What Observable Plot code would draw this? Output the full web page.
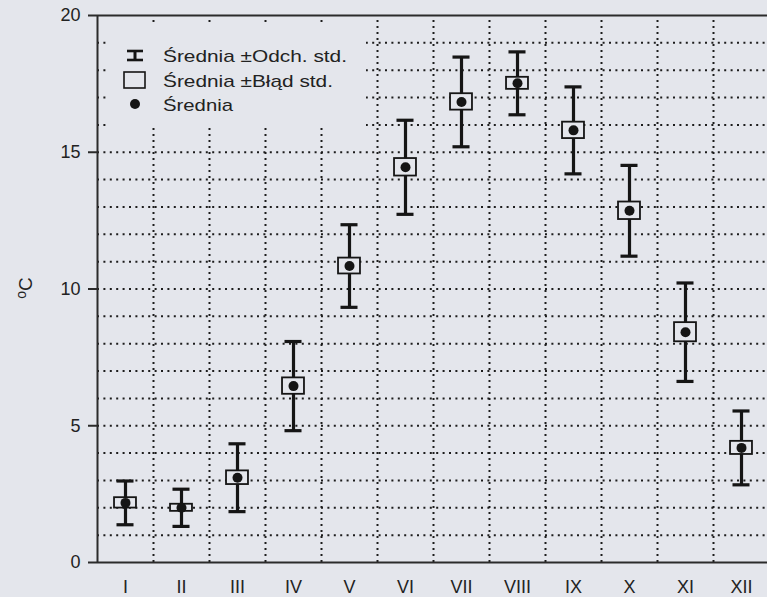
<!DOCTYPE html>
<html>
<head>
<meta charset="utf-8">
<script src="https://cdn.jsdelivr.net/npm/d3@7"></script>
<script src="https://cdn.jsdelivr.net/npm/@observablehq/plot@0.6"></script>
<style>
  html, body { margin: 0; padding: 0; background: #e4e6ec; overflow: hidden; }
  #chart { position: relative; width: 767px; height: 597px; }
</style>
</head>
<body>
<div id="chart"></div>
<script>
const months = ["I","II","III","IV","V","VI","VII","VIII","IX","X","XI","XII"];
const means  = [2.18, 2.0, 3.1, 6.45, 10.84, 14.45, 16.84, 17.52, 15.8, 12.86, 8.42, 4.19];
const sds    = [0.8, 0.68, 1.24, 1.63, 1.51, 1.72, 1.64, 1.15, 1.59, 1.66, 1.8, 1.35];
const ses    = [0.19, 0.13, 0.25, 0.3, 0.29, 0.32, 0.3, 0.22, 0.3, 0.32, 0.35, 0.24];
const yTicks = [0, 5, 10, 15, 20];
const legendLabels = ["Średnia ±Odch. std.", "Średnia ±Błąd std.", "Średnia"];
const yLabel = ["o", "C"];

const BG = "#e4e6ec";
const INK = "#151515";

const data = months.map((m, k) => ({i: k + 1, month: m, mean: means[k], sd: sds[k], se: ses[k]}));
const hGrid = d3.range(1, 20);
const vGrid = d3.range(1.5, 12.5, 1);

const plot = Plot.plot({
  width: 767,
  height: 597,
  marginLeft: 97,
  marginRight: -2,
  marginTop: 15,
  marginBottom: 35,
  style: {background: BG, fontFamily: "'Liberation Sans', Arial, sans-serif", fontSize: "18px", color: "#222", overflow: "visible"},
  x: {domain: [0.5, 12.5]},
  y: {domain: [0, 20]},
  marks: [
    Plot.ruleY(hGrid, {stroke: "#1c1c1c", strokeWidth: 2, strokeDasharray: "2,4.4"}),
    Plot.ruleX(vGrid, {y1: 0, y2: 20, stroke: "#1c1c1c", strokeWidth: 2, strokeDasharray: "2,4"}),
    Plot.ruleY([20], {stroke: "#2b2b2b", strokeWidth: 2}),
    Plot.ruleY([0], {stroke: "#2b2b2b", strokeWidth: 2}),
    Plot.ruleX([0.5], {y1: 0, y2: 20, stroke: "#2b2b2b", strokeWidth: 2}),
    Plot.axisY({ticks: yTicks, tickSize: 9, tickPadding: 8, label: null, fontSize: 18, stroke: "#2b2b2b", strokeWidth: 2}),
    Plot.axisX({ticks: d3.range(1, 13), tickFormat: d => months[d - 1], tickSize: 0, tickPadding: 18, label: null, fontSize: 18}),
    Plot.ruleX(data, {x: "i", y1: d => d.mean - d.sd, y2: d => d.mean + d.sd, stroke: INK, strokeWidth: 3.2}),
    Plot.ruleY(data, {y: d => d.mean + d.sd, x1: d => d.i - 0.152, x2: d => d.i + 0.152, stroke: INK, strokeWidth: 3.2}),
    Plot.ruleY(data, {y: d => d.mean - d.sd, x1: d => d.i - 0.152, x2: d => d.i + 0.152, stroke: INK, strokeWidth: 3.2}),
    Plot.rect(data, {x1: d => d.i - 0.196, x2: d => d.i + 0.196, y1: d => d.mean - d.se, y2: d => d.mean + d.se, fill: BG, stroke: INK, strokeWidth: 1.8}),
    Plot.dot(data, {x: "i", y: "mean", r: 5, fill: INK, stroke: null})
  ]
});

document.getElementById("chart").appendChild(plot);

// Legend and y-axis label
const svg = d3.select(plot);
const lg = svg.append("g").attr("text-anchor", "start");
lg.append("rect").attr("x", 107).attr("y", 25).attr("width", 259).attr("height", 102).attr("fill", BG);
// I-beam symbol
lg.append("line").attr("x1", 135).attr("x2", 135).attr("y1", 51).attr("y2", 60).attr("stroke", INK).attr("stroke-width", 3);
lg.append("line").attr("x1", 127).attr("x2", 143).attr("y1", 51).attr("y2", 51).attr("stroke", INK).attr("stroke-width", 2.6);
lg.append("line").attr("x1", 127).attr("x2", 143).attr("y1", 60).attr("y2", 60).attr("stroke", INK).attr("stroke-width", 2.6);
// square symbol
lg.append("rect").attr("x", 124).attr("y", 72).attr("width", 21).attr("height", 16).attr("fill", "none").attr("stroke", INK).attr("stroke-width", 1.6);
// dot symbol
lg.append("circle").attr("cx", 135).attr("cy", 104).attr("r", 5).attr("fill", INK);
const lens = [184, 170, 70];
const ys = [62, 87, 111];
legendLabels.forEach((t, k) => {
  lg.append("text").attr("x", 163).attr("y", ys[k])
    .attr("text-anchor", "start")
    .attr("font-family", "'Liberation Sans', Arial, sans-serif").attr("font-size", 17)
    .attr("fill", "#222").attr("textLength", lens[k]).attr("lengthAdjust", "spacingAndGlyphs").text(t);
});

const yl = svg.append("text")
  .attr("transform", "translate(32,288) rotate(-90)")
  .attr("text-anchor", "middle")
  .attr("font-family", "'Liberation Sans', Arial, sans-serif")
  .attr("fill", "#222");
yl.append("tspan").attr("font-size", 14).attr("dy", -6).text(yLabel[0]);
yl.append("tspan").attr("font-size", 19).attr("dy", 6).text(yLabel[1]);
</script>
</body>
</html>
